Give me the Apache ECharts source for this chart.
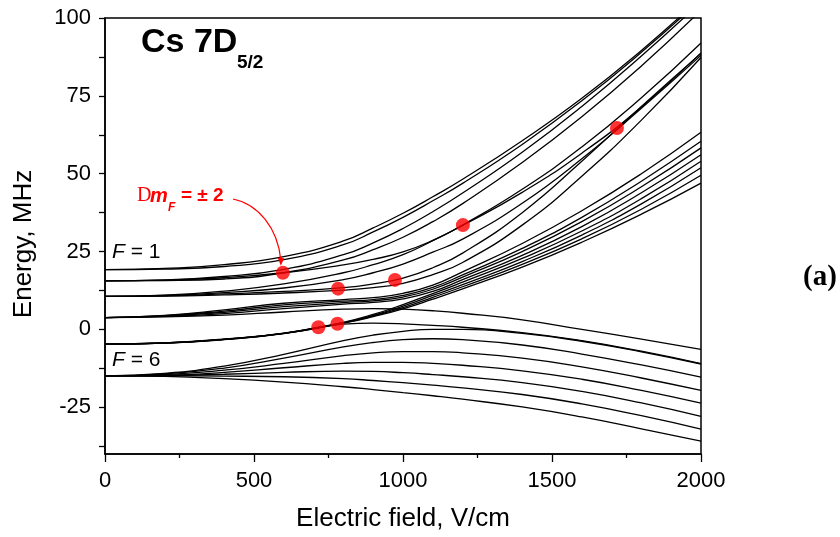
<!DOCTYPE html>
<html>
<head>
<meta charset="utf-8">
<script src="https://cdn.jsdelivr.net/npm/echarts@6/dist/echarts.min.js"></script>
<style>
  html, body { margin: 0; padding: 0; background: #fff; }
  #chart { width: 840px; height: 537px; }
</style>
</head>
<body>
<div id="chart"></div>
<script>
// Electric field sample points (V/cm)
const fieldV = [0, 200, 400, 600, 800, 900, 1000, 1100, 1200, 1400, 1600, 1800, 2000];

// Stark-shifted hyperfine sublevels (MHz), grouped by zero-field F level
// F = 1
const f1a = [19.2, 19.6, 20.8, 23.4, 28.4, 32.6, 37.3, 42.6, 48.2, 60.6, 74.2, 89.6, 106.6];
const f1b = [19.2, 19.4, 20.2, 22.4, 27.2, 31.3, 36.0, 41.3, 46.9, 59.4, 73.4, 89.0, 106.0];
// F = 2
const f2a = [15.6, 15.9, 17.0, 19.3, 24.0, 27.8, 32.4, 37.8, 43.8, 56.9, 71.6, 87.8, 105.2];
const f2b = [15.6, 15.7, 16.2, 18.2, 22.3, 25.6, 29.6, 34.6, 40.4, 53.6, 68.3, 84.6, 102.5];
const f2c = [15.6, 15.8, 16.6, 18.2, 20.7, 22.5, 24.9, 28.6, 33.4, 44.0, 56.6, 71.4, 88.8];
// F = 3
const f3a = [10.6, 11.0, 12.3, 14.6, 18.2, 20.8, 24.0, 28.5, 33.5, 45.0, 58.6, 74.4, 92.0];
const f3b = [10.6, 10.8, 11.4, 12.2, 13.4, 14.6, 16.5, 19.8, 24.5, 37.5, 54.0, 71.6, 88.6];
const f3c = [10.6, 10.9, 11.8, 13.3, 16.0, 18.2, 21.0, 24.8, 29.0, 40.5, 54.8, 71.0, 88.0];
const f3d = [10.6, 10.7, 11.1, 11.7, 12.6, 13.4, 14.8, 17.6, 21.5, 33.5, 49.2, 67.2, 87.3];
// F = 4
const f4a = [3.8, 4.5, 6.3, 8.4, 9.6, 10.2, 11.6, 14.2, 18.5, 27.6, 38.1, 50.0, 63.3];
const f4b = [3.8, 4.4, 5.9, 7.9, 9.1, 9.6, 10.9, 13.5, 17.5, 26.0, 36.0, 47.6, 60.4];
const f4c = [3.8, 4.3, 5.5, 7.3, 8.6, 9.2, 10.4, 12.9, 16.8, 25.0, 34.6, 45.8, 58.3];
const f4d = [3.8, 4.2, 5.1, 6.7, 8.1, 8.7, 9.8, 12.2, 16.0, 23.8, 33.0, 43.9, 56.1];
const f4e = [3.8, 4.0, 4.6, 5.6, 6.5, 6.7, 6.5, 6.0, 5.2, 3.1, 0.0, -3.1, -6.4];
// F = 5
const f5a = [-4.7, -4.3, -3.1, -1.2, 2.3, 4.8, 8.0, 11.5, 15.2, 22.8, 31.6, 42.0, 54.0];
const f5b = [-4.7, -4.35, -3.15, -1.25, 2.2, 4.5, 7.5, 10.9, 14.4, 21.8, 30.3, 40.3, 51.9];
const f5c = [-4.7, -4.4, -3.2, -1.3, 2.1, 4.3, 7.0, 10.3, 13.7, 20.9, 29.1, 38.6, 49.5];
const f5d = [-4.7, -4.4, -3.25, -1.35, 2.0, 4.1, 6.6, 9.7, 13.0, 20.0, 28.0, 37.0, 47.0];
const f5e = [-4.7, -4.35, -3.2, -1.3, 1.7, 2.0, 1.8, 1.3, 0.7, -1.0, -3.6, -7.0, -11.0];
// F = 6
const f6a = [-14.9, -14.1, -11.8, -8.0, -3.6, -1.8, -0.6, 0.0, 0.0, -1.3, -3.8, -7.2, -11.1];
const f6b = [-14.9, -14.3, -12.4, -9.2, -5.6, -4.2, -3.3, -3.0, -3.3, -5.0, -7.9, -11.4, -15.3];
const f6c = [-14.9, -14.5, -13.1, -10.9, -8.4, -7.5, -7.1, -7.1, -7.5, -9.2, -12.0, -15.6, -19.6];
const f6d = [-14.9, -14.7, -13.8, -12.3, -10.9, -10.6, -10.6, -10.9, -11.5, -13.3, -16.0, -19.6, -23.7];
const f6e = [-14.9, -14.8, -14.4, -13.8, -13.4, -13.5, -13.9, -14.5, -15.2, -17.1, -19.9, -23.6, -27.9];
const f6f = [-14.9, -14.9, -15.0, -15.2, -15.8, -16.4, -17.1, -17.9, -18.8, -20.9, -23.9, -27.7, -32.0];
const f6g = [-14.9, -15.1, -15.8, -16.9, -18.4, -19.3, -20.3, -21.3, -22.4, -24.9, -28.1, -31.9, -35.9];

// Delta m_F = ±2 level crossings [field, energy]
const crossingField = [597, 782, 973, 1201, 1718, 716, 780];
const crossingEnergy = [18.2, 13.1, 15.9, 33.5, 64.7, 0.7, 1.8];

// Axis ticks
const yLabelValues = [-25, 0, 25, 50, 75, 100];
const yTickValues = [-37.5, -25, -12.5, 0, 12.5, 25, 37.5, 50, 62.5, 75, 87.5, 100];

const levels = [f1a, f1b, f2a, f2b, f2c, f3a, f3b, f3c, f3d,
  f4a, f4b, f4c, f4d, f4e, f5a, f5b, f5c, f5d, f5e,
  f6a, f6b, f6c, f6d, f6e, f6f, f6g];

const SANS = '"Liberation Sans", Arial, Helvetica, sans-serif';
const SERIF = '"Liberation Serif", "Times New Roman", serif';

const chart = echarts.init(document.getElementById('chart'), null, { renderer: 'canvas' });

const lineSeries = levels.map(arr => ({
  type: 'line',
  data: fieldV.map((x, i) => [x, arr[i]]),
  smooth: 0.5,
  symbol: 'none',
  silent: true,
  clip: true,
  lineStyle: { color: '#000', width: 1.3 },
  z: 2
}));

const dotSeries = {
  type: 'scatter',
  data: crossingField.map((x, i) => [x, crossingEnergy[i]]),
  symbol: 'circle',
  symbolSize: 14,
  silent: true,
  itemStyle: { color: '#ff0000' },
  z: 5
};

chart.setOption({
  animation: false,
  backgroundColor: '#fff',
  grid: {
    left: 105, right: 139, top: 18, bottom: 83,
    show: true, borderColor: '#000', borderWidth: 1.5,
    backgroundColor: 'transparent'
  },
  xAxis: {
    type: 'value', min: 0, max: 2000, interval: 500,
    axisLine: { show: true, onZero: false, lineStyle: { color: '#000', width: 1.5 } },
    axisTick: { show: true, inside: false, length: 8, lineStyle: { color: '#000', width: 1.3 } },
    minorTick: { show: true, splitNumber: 2, length: 4, lineStyle: { color: '#000', width: 1.3 } },
    splitLine: { show: false },
    axisLabel: {
      color: '#000', fontSize: 22, fontFamily: SANS, margin: 16,
      formatter: v => String(v)
    },
    name: 'Electric field, V/cm', nameLocation: 'middle', nameGap: 52,
    nameTextStyle: { color: '#000', fontSize: 26, fontFamily: SANS }
  },
  yAxis: {
    type: 'value', min: -40, max: 100,
    axisLine: { show: true, onZero: false, lineStyle: { color: '#000', width: 1.5 } },
    axisTick: { show: true, inside: false, length: 6, customValues: yTickValues,
      lineStyle: { color: '#000', width: 1.3 } },
    splitLine: { show: false },
    axisLabel: {
      color: '#000', fontSize: 22, fontFamily: SANS, margin: 14,
      customValues: yLabelValues, formatter: v => String(v)
    },
    name: 'Energy, MHz', nameLocation: 'middle', nameGap: 68,
    nameTextStyle: { color: '#000', fontSize: 26, fontFamily: SANS, padding: [0, 16, 0, 0] }
  },
  series: lineSeries.concat([dotSeries])
});

// Annotation arrow ends just above the first crossing marker
const p = chart.convertToPixel({ gridIndex: 0 }, [crossingField[0], crossingEnergy[0]]);
const tipX = p[0] - 2, tipY = p[1] - 7;

chart.setOption({
  graphic: [
    { type: 'text', z: 10, style: { x: 141, y: 43, text: 'Cs 7D', fill: '#000',
      font: 'bold 34px ' + SANS, textAlign: 'left', textVerticalAlign: 'middle' } },
    { type: 'text', z: 10, style: { x: 237, y: 63, text: '5/2', fill: '#000',
      font: 'bold 19px ' + SANS, textAlign: 'left', textVerticalAlign: 'middle' } },
    { type: 'text', z: 10, style: { x: 112, y: 252, text: '{i|F}{n| = 1}',
      textAlign: 'left', textVerticalAlign: 'middle',
      rich: { i: { fontStyle: 'italic', fontSize: 21, fontFamily: SANS, fill: '#000' },
              n: { fontSize: 21, fontFamily: SANS, fill: '#000' } } } },
    { type: 'text', z: 10, style: { x: 112, y: 360, text: '{i|F}{n| = 6}',
      textAlign: 'left', textVerticalAlign: 'middle',
      rich: { i: { fontStyle: 'italic', fontSize: 21, fontFamily: SANS, fill: '#000' },
              n: { fontSize: 21, fontFamily: SANS, fill: '#000' } } } },
    { type: 'text', z: 10, style: { x: 820, y: 278, text: '(a)', fill: '#000',
      font: 'bold 29px ' + SERIF, textAlign: 'center', textVerticalAlign: 'middle' } },
    { type: 'text', z: 10, style: { x: 137, y: 196, text: 'D', fill: '#ff0000',
      font: '20px ' + SERIF, textAlign: 'left', textVerticalAlign: 'middle' } },
    { type: 'text', z: 10, style: { x: 150, y: 196, text: 'm', fill: '#ff0000',
      font: 'italic bold 20px ' + SANS, textAlign: 'left', textVerticalAlign: 'middle' } },
    { type: 'text', z: 10, style: { x: 168, y: 207.5, text: 'F', fill: '#ff0000',
      font: 'italic bold 12px ' + SANS, textAlign: 'left', textVerticalAlign: 'middle' } },
    { type: 'text', z: 10, style: { x: 181, y: 196, text: '= \u00b1 2', fill: '#ff0000',
      font: 'bold 19px ' + SANS, textAlign: 'left', textVerticalAlign: 'middle' } },
    { type: 'bezierCurve', z: 10, silent: true,
      shape: { x1: 233, y1: 199, cpx1: 258, cpy1: 204, cpx2: tipX - 3, cpy2: 228, x2: tipX, y2: tipY - 5 },
      style: { stroke: '#ff0000', lineWidth: 1.2, fill: null } },
    { type: 'polygon', z: 10, silent: true,
      shape: { points: [[tipX - 3.2, tipY - 8], [tipX + 3.2, tipY - 7.5], [tipX, tipY]] },
      style: { fill: '#ff0000' } }
  ]
});
</script>
</body>
</html>
